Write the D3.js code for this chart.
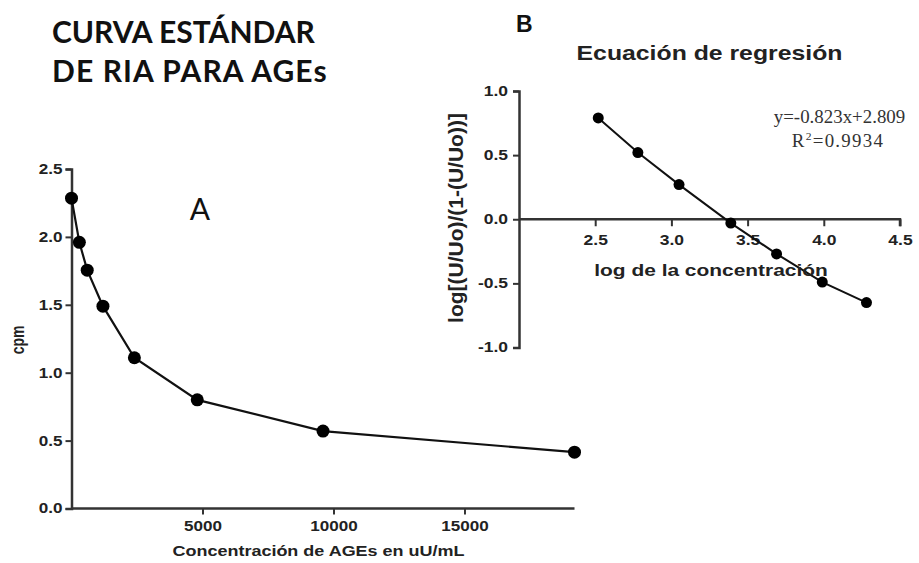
<html>
<script src='https://d3js.org/d3.v7.min.js'></script>
<style>
body { margin: 0; background: white; }
.tick text { font-family: "Liberation Sans", Arial, sans-serif; font-weight: bold; fill: #222; }
</style>
<body>
<svg width=919 height=563></svg>
<script>
// panel A: standard curve
var concA = [0, 300, 600, 1200, 2400, 4800, 9600, 19200];
var cpmA = [2.285, 1.96, 1.755, 1.49, 1.11, 0.80, 0.57, 0.415];
var ticksAx = [5000, 10000, 15000];
var ticksAy = [0, 0.5, 1.0, 1.5, 2.0, 2.5];

// panel B: regression
var logConcB = [2.52, 2.78, 3.05, 3.39, 3.69, 3.99, 4.28];
var logitB = [0.79, 0.52, 0.27, -0.03, -0.27, -0.49, -0.65];
var ticksBx = [2.5, 3.0, 3.5, 4.0, 4.5];
var ticksBy = [-1.0, -0.5, 0.0, 0.5, 1.0];

var svg = d3.select("svg");
var fmt1 = function(d) { return d.toFixed(1); };
var sans = "Liberation Sans, Arial, sans-serif";

// the graphpad panels look stretched sideways, so text gets a scale
function label(x, y, txt, size, sx, rot) {
  var t = "translate(" + x + "," + y + ")";
  if (rot) t += " rotate(-90) scale(1," + sx + ")";
  else t += " scale(" + sx + ",1)";
  return svg.append("text").attr("transform", t).attr("text-anchor", "middle")
    .attr("font-family", sans).attr("font-weight", "bold").attr("font-size", size)
    .attr("fill", "#222").text(txt);
}

function styleAxis(g, sx, gap, left) {
  g.select(".domain").attr("stroke", "#333").attr("stroke-width", 2.5);
  g.selectAll(".tick line").attr("stroke", "#333").attr("stroke-width", 2);
  g.selectAll(".tick text").attr("font-size", 14).attr("transform", "scale(" + sx + ",1)");
  if (left) g.selectAll(".tick text").attr("x", -gap / sx);
}

// titles
svg.append("text").attr("x", 52).attr("y", 43)
  .attr("font-family", "Lato, sans-serif").attr("font-weight", "bold").attr("font-size", 30)
  .attr("fill", "#111").text("CURVA ESTÁNDAR");
svg.append("text").attr("x", 52).attr("y", 82).attr("letter-spacing", 1.1)
  .attr("font-family", "Lato, sans-serif").attr("font-weight", "bold").attr("font-size", 30)
  .attr("fill", "#111").text("DE RIA PARA AGEs");

// ---- A ----
var xA = d3.scaleLinear().domain([0, 19200]).range([71.5, 574.5]);
var yA = d3.scaleLinear().domain([0, 2.5]).range([508.5, 169]);

var axA_x = svg.append("g").attr("transform", "translate(0,508.5)")
  .call(d3.axisBottom(xA).tickValues(ticksAx).tickSize(6).tickPadding(7).tickFormat(d3.format("d")));
var axA_y = svg.append("g").attr("transform", "translate(71.5,0)")
  .call(d3.axisLeft(yA).tickValues(ticksAy).tickSize(6).tickPadding(3).tickFormat(fmt1));
styleAxis(axA_x, 1.22, 0, false);
styleAxis(axA_y, 1.22, 9, true);
axA_x.select(".domain").attr("d", "M" + xA(0) + ",0H" + xA(19200));

var lineA = d3.line().x(function(d, i) { return xA(concA[i]); }).y(function(d) { return yA(d); });
svg.append("path").datum(cpmA).attr("d", lineA)
  .attr("fill", "none").attr("stroke", "#111").attr("stroke-width", 2.2);
svg.append("g").selectAll("circle").data(cpmA).enter().append("circle")
  .attr("cx", function(d, i) { return xA(concA[i]); })
  .attr("cy", function(d) { return yA(d); })
  .attr("r", 6.5).attr("fill", "#000");

svg.append("text").attr("x", 200).attr("y", 220).attr("text-anchor", "middle")
  .attr("font-family", "Lato, sans-serif").attr("font-size", 30).attr("fill", "#111").text("A");

label(24, 340, "cpm", 14, 1.25, true);
label(318.5, 556, "Concentración de AGEs en uU/mL", 15, 1.2, false);

// ---- B ----
var xB = d3.scaleLinear().domain([2.0, 4.5]).range([519, 900]);
var yB = d3.scaleLinear().domain([-1, 1]).range([347.5, 91]);

var axB_x = svg.append("g").attr("transform", "translate(0," + yB(0) + ")")
  .call(d3.axisBottom(xB).tickValues(ticksBx).tickSize(7).tickPadding(9).tickFormat(fmt1));
var axB_y = svg.append("g").attr("transform", "translate(519,0)")
  .call(d3.axisLeft(yB).tickValues(ticksBy).tickSize(6).tickPadding(3).tickFormat(fmt1));
styleAxis(axB_x, 1.25, 0, false);
styleAxis(axB_y, 1.25, 11, true);
axB_x.select(".domain").attr("d", "M" + xB(2.0) + ",0H" + xB(4.5) + "V7");

var lineB = d3.line().x(function(d, i) { return xB(logConcB[i]); }).y(function(d) { return yB(d); });
svg.append("path").datum(logitB).attr("d", lineB)
  .attr("fill", "none").attr("stroke", "#111").attr("stroke-width", 2);
svg.append("g").selectAll("circle").data(logitB).enter().append("circle")
  .attr("cx", function(d, i) { return xB(logConcB[i]); })
  .attr("cy", function(d) { return yB(d); })
  .attr("r", 5.5).attr("fill", "#000");

svg.append("text").attr("x", 516).attr("y", 32)
  .attr("font-family", sans).attr("font-weight", "bold").attr("font-size", 23)
  .attr("fill", "#111").text("B");
label(709.5, 60, "Ecuación de regresión", 20, 1.24, false);
label(711, 276, "log de la concentración", 17, 1.23, false);
label(463, 218, "log[(U/Uo)/(1-(U/Uo))]", 21, 0.95, true);

var eq = svg.append("text").attr("transform", "translate(839.5,123) scale(1.05,1)")
  .attr("text-anchor", "middle")
  .attr("font-family", "Liberation Serif, serif").attr("font-size", 18).attr("fill", "#333")
  .text("y=-0.823x+2.809");
var r2 = svg.append("text").attr("transform", "translate(838,146.5) scale(1.05,1)")
  .attr("text-anchor", "middle").attr("letter-spacing", 1.2)
  .attr("font-family", "Liberation Serif, serif").attr("font-size", 18).attr("fill", "#333");
r2.append("tspan").text("R");
r2.append("tspan").attr("font-size", 11).attr("dy", -7).text("2");
r2.append("tspan").attr("dy", 7).text("=0.9934");
</script>
</body>
</html>
